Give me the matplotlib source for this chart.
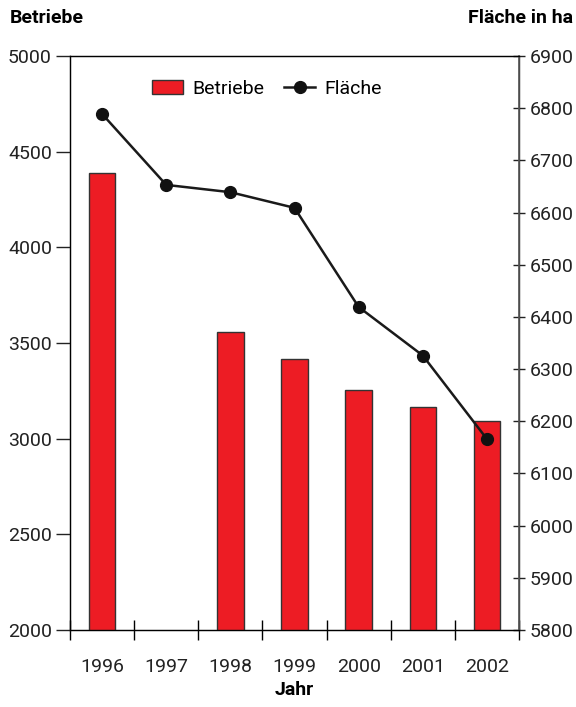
import matplotlib
matplotlib.use("Agg")
import matplotlib.pyplot as plt
import numpy as np
from matplotlib.patches import Patch
from matplotlib.lines import Line2D

years = ["1996", "1997", "1998", "1999", "2000", "2001", "2002"]
betriebe = [4388, np.nan, 3560, 3416, 3254, 3167, 3092]
flaeche = [6789, 6653, 6639, 6609, 6419, 6326, 6166]

FONT = ["Roboto", "DejaVu Sans"]
plt.rcParams["font.family"] = FONT

fig = plt.figure(figsize=(5.76, 7.07), dpi=100)
ax = fig.add_axes([70/576, 77/707, 449/576, 574/707])
x = np.arange(len(years))

red = "#ED1C24"
ax.bar(x, betriebe, width=0.41, color=red, edgecolor="#333333", linewidth=1.0, zorder=2)
ax.set_ylim(2000, 5000)
ax.set_xlim(-0.5, len(years) - 0.5)
ax.set_yticks(np.arange(2000, 5001, 500))
ax.set_xticks(x)
ax.set_xticklabels(years)
ax.set_xticks(np.arange(-0.5, len(years), 1.0), minor=True)
ax.tick_params(axis="x", which="major", length=0, pad=20, labelsize=14, colors="#222222")
ax.tick_params(axis="x", which="minor", direction="inout", length=14, width=1.0)
ax.tick_params(axis="y", direction="out", length=10, width=1.0, labelsize=14, colors="#222222", pad=3)
for s in ax.spines.values():
    s.set_linewidth(1.0)
    s.set_color("#222222")

ax2 = ax.twinx()
ax2.plot(x, flaeche, color="#1a1a1a", linewidth=1.8, marker="o", markersize=8.5,
         markerfacecolor="#111111", markeredgecolor="#111111", zorder=3)
ax2.set_ylim(5800, 6900)
ax2.set_yticks(np.arange(5800, 6901, 100))
ax2.tick_params(axis="y", direction="inout", length=9, width=1.0, labelsize=14, colors="#222222", pad=3)
ax2.spines["right"].set_color("#555555")
ax2.spines["right"].set_linewidth(1.2)
ax2.set_xlim(-0.5, len(years) - 0.5)

fig.text(10/576, 1 - 18/707, "Betriebe", fontsize=14, fontweight="bold", ha="left", va="center")
fig.text(573/576, 1 - 18/707, "Fläche in ha", fontsize=14, fontweight="bold", ha="right", va="center")
fig.text((70 + 519) / 2 / 576, 1 - 690/707, "Jahr", fontsize=14, fontweight="bold", ha="center", va="center")

handles = [Patch(facecolor=red, edgecolor="#333333", linewidth=1.0),
           Line2D([0], [0], color="#1a1a1a", linewidth=1.8, marker="o", markersize=8.5,
                  markerfacecolor="#111111", markeredgecolor="#111111")]
ax2.legend(handles, ["Betriebe", "Fläche"], ncol=2, frameon=False, loc="center left",
           bbox_to_anchor=(0.182, 0.9425), fontsize=14, handlelength=1.6, handletextpad=0.5,
           columnspacing=1.0, borderaxespad=0, borderpad=0)

fig.savefig("out.png", dpi=100)
